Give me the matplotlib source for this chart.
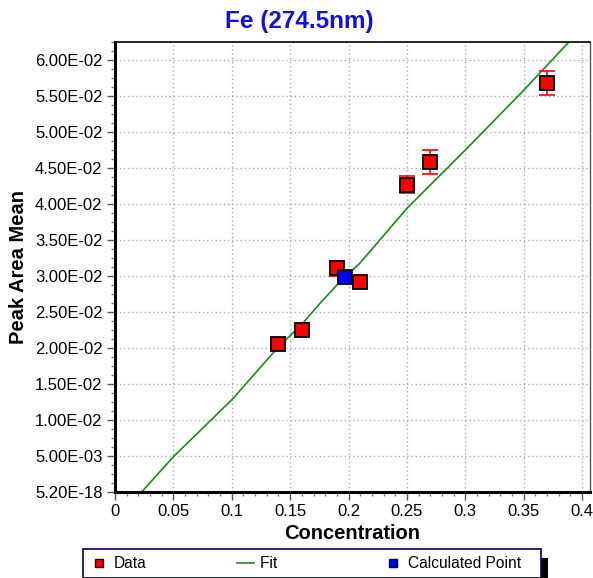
import matplotlib
matplotlib.use('Agg')
import matplotlib.pyplot as plt
from matplotlib.lines import Line2D
from matplotlib.patches import Rectangle
from matplotlib.ticker import MultipleLocator, FuncFormatter

plt.rcParams['font.family'] = ['Liberation Sans', 'DejaVu Sans']

# data
conc = [0.14, 0.16, 0.19, 0.21, 0.25, 0.27, 0.37]
peak_mean = [0.0206, 0.02245, 0.0311, 0.0291, 0.0427, 0.0458, 0.05685]
peak_err = [0.0002, 0.0002, 0.00105, 0.0003, 0.0012, 0.00167, 0.00164]

calc_x = [0.197]
calc_y = [0.0298]

fit_x = [0.0228, 0.05, 0.1, 0.1413, 0.1584, 0.1755, 0.1926, 0.2098, 0.25, 0.3, 0.35, 0.3886]
fit_y = [0.0, 0.0049, 0.0128, 0.0204, 0.0230, 0.0262, 0.0292, 0.0318, 0.0394, 0.0475, 0.0558, 0.0625]

yticks = [0.0, 0.005, 0.01, 0.015, 0.02, 0.025, 0.03, 0.035, 0.04, 0.045, 0.05, 0.055, 0.06]
xticks = [0, 0.05, 0.1, 0.15, 0.2, 0.25, 0.3, 0.35, 0.4]
xtick_labels = ['0', '0.05', '0.1', '0.15', '0.2', '0.25', '0.3', '0.35', '0.4']


def ylab(v, pos):
    if abs(v) < 1e-12:
        return '5.20E-18'
    m, e = f'{v:.2E}'.split('E')
    return f'{m}E-{abs(int(e)):02d}'


fig = plt.figure(figsize=(5.93, 5.78), dpi=100)
ax = fig.add_axes([0.1939, 0.1488, 0.801, 0.7785])

ax.plot(fit_x, fit_y, color='#1a8a1a', lw=1.2, zorder=2)
ax.errorbar(conc, peak_mean, yerr=peak_err, fmt='none', ecolor='red',
            elinewidth=1.2, capsize=6, capthick=1.2, zorder=3)
ax.plot(conc, peak_mean, 's', color='red', markeredgecolor='black',
        markeredgewidth=1.3, markersize=9.6, zorder=4)
ax.plot(calc_x, calc_y, 's', color='blue', markeredgecolor='black',
        markeredgewidth=1.3, markersize=9.6, zorder=5)

ax.set_xlim(0, 0.4067)
ax.set_ylim(0, 0.0625)
ax.set_xticks(xticks)
ax.set_xticklabels(xtick_labels)
ax.set_yticks(yticks)
ax.yaxis.set_major_formatter(FuncFormatter(ylab))
ax.xaxis.set_minor_locator(MultipleLocator(0.01))
ax.yaxis.set_minor_locator(MultipleLocator(0.00125))
ax.tick_params(axis='both', which='major', labelsize=12, length=6,
               width=1, direction='out', color='#555555', pad=3)
ax.tick_params(axis='both', which='minor', length=3, width=1,
               direction='out', color='#777777')

ax.grid(True, which='major', color='#aaaaaa', linestyle=(0, (1, 2)), lw=1)

ax.spines['left'].set_linewidth(2.2)
ax.spines['bottom'].set_linewidth(2.2)
ax.spines['top'].set_linewidth(1.2)
ax.spines['right'].set_linewidth(1)
ax.spines['right'].set_color('#555555')

ax.set_xlabel('Concentration', fontsize=14.5, fontweight='bold', labelpad=3)
ax.set_ylabel('Peak Area Mean', fontsize=14.5, fontweight='bold', labelpad=5)
fig.text(0.504, 0.963, 'Fe (274.5nm)', fontsize=17.5, fontweight='bold',
         color='#1010e0', ha='center', va='center')

handles = [
    Line2D([], [], marker='s', ls='none', color='red', markeredgecolor='#330000',
           markeredgewidth=1, markersize=6, label='Data'),
    Line2D([], [], color='#1a8a1a', lw=1.2, label='Fit    '),
    Line2D([], [], marker='s', ls='none', color='blue', markeredgecolor='#000033',
           markeredgewidth=1, markersize=6, label='Calculated Point   '),
]
leg = fig.legend(handles=handles, ncol=3, loc='center', bbox_to_anchor=(0.526, 0.025),
                 fontsize=11.2, frameon=True, fancybox=False, edgecolor='#000066',
                 columnspacing=5.8, handlelength=1.1, handletextpad=0.4,
                 borderpad=0.45, framealpha=1)
leg.get_frame().set_linewidth(1.2)
leg.set_zorder(10)
# black drop shadow to the right of the legend box
fig.patches.append(Rectangle((0.2, 0.0), 0.724, 0.0346, transform=fig.transFigure,
                             facecolor='black', edgecolor='none', zorder=1))

fig.savefig('out.png', dpi=100)
